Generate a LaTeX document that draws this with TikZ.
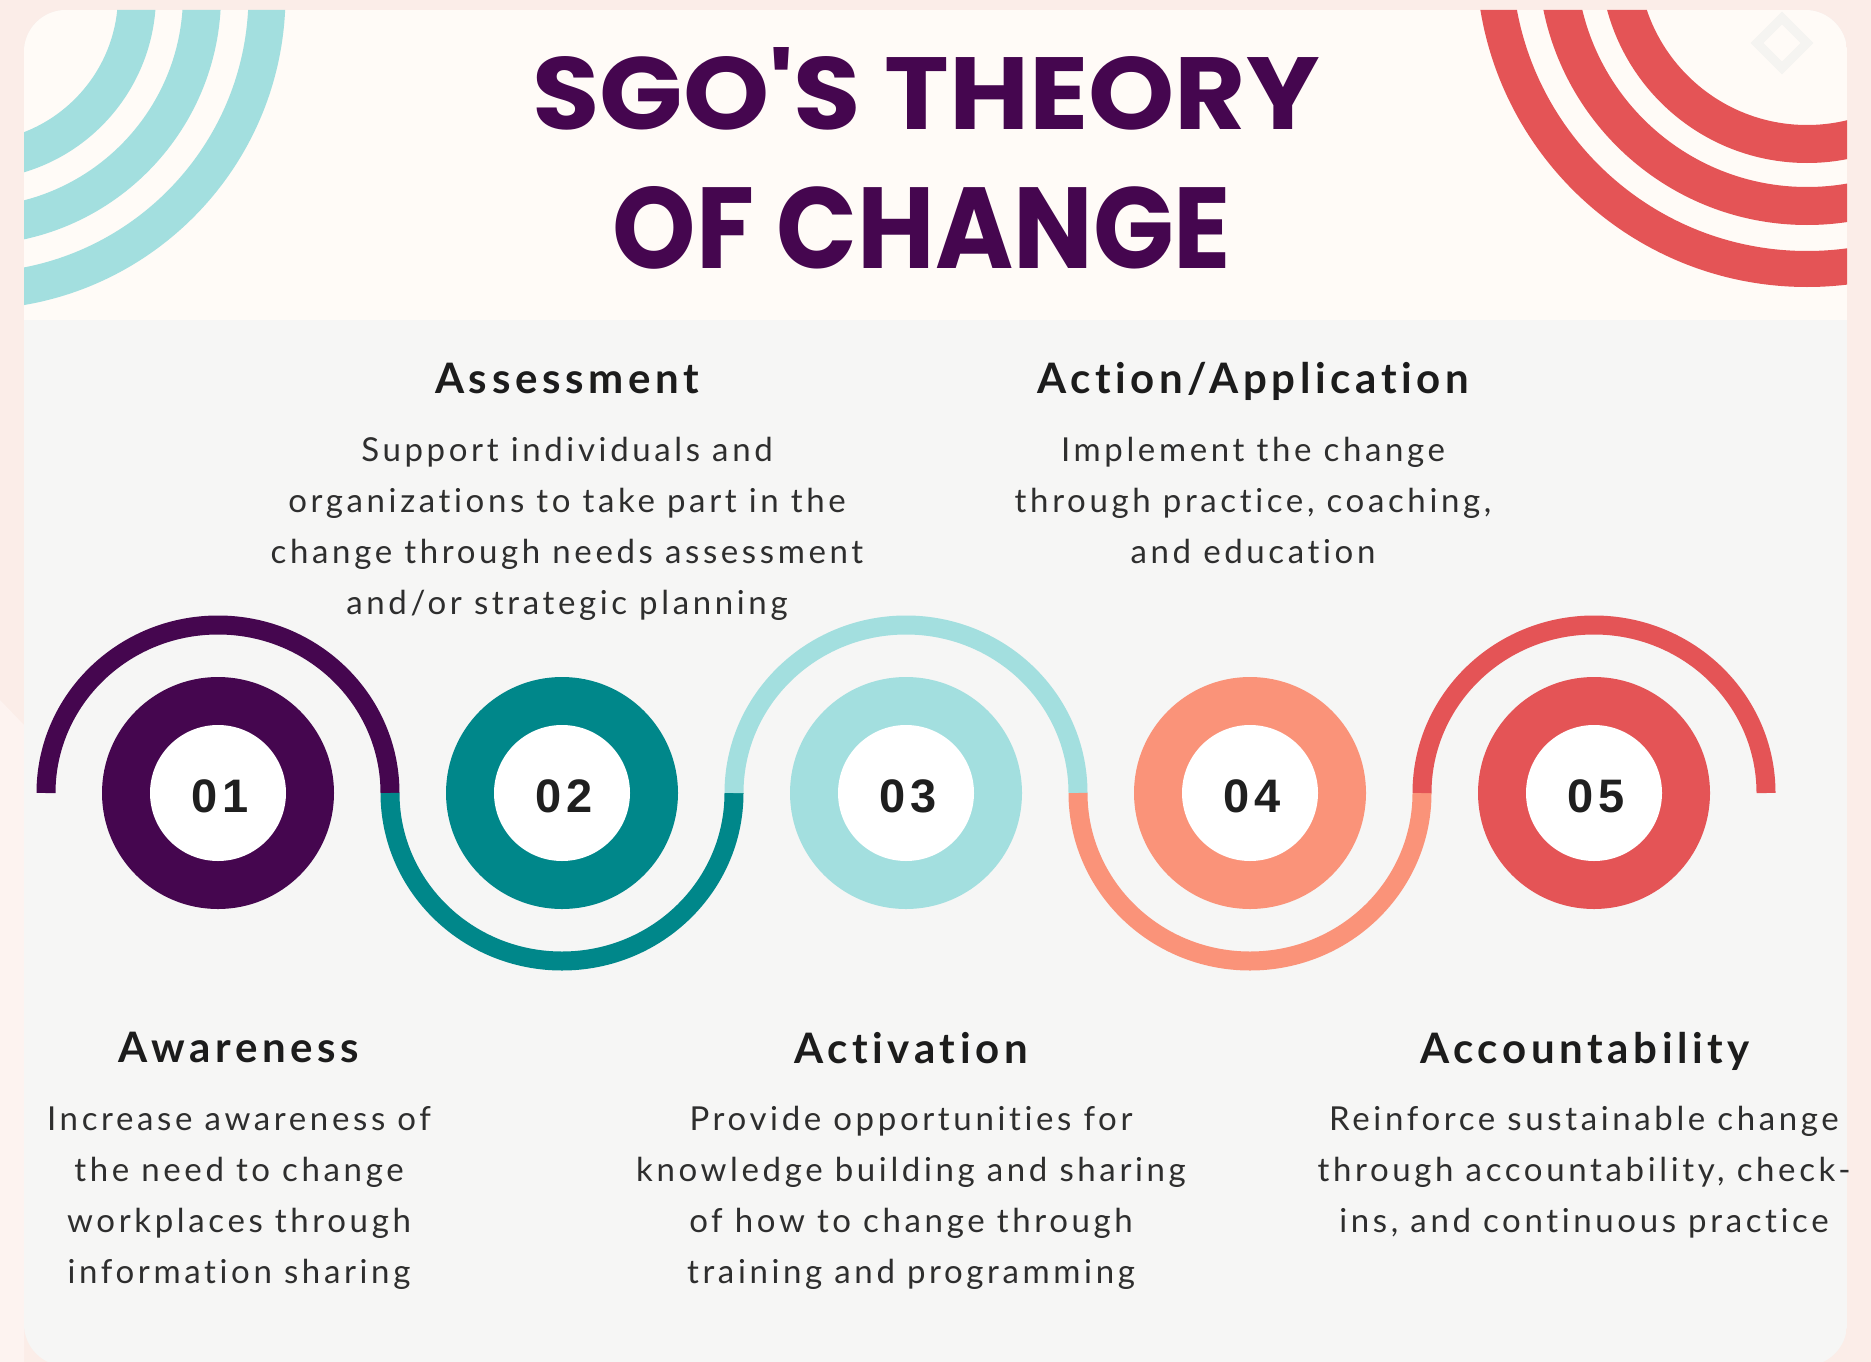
\documentclass[tikz,border=0pt]{standalone}
\usepackage{fontspec}
\usepackage{graphicx}
\newfontfamily\titlefont{Poppins}
\newfontfamily\headfont[LetterSpace=11,Ligatures={NoCommon}]{Lato}
\newfontfamily\bodyfont[LetterSpace=11,Ligatures={NoCommon}]{Lato}
\newfontfamily\numfont[LetterSpace=9]{Liberation Sans}
\definecolor{cpurple}{HTML}{45064F}
\definecolor{cteal}{HTML}{00878A}
\definecolor{clteal}{HTML}{A3DFDF}
\definecolor{csalmon}{HTML}{FA9379}
\definecolor{cred}{HTML}{E45456}
\definecolor{cream}{HTML}{FFFBF7}
\definecolor{bodybg}{HTML}{F6F6F5}
\definecolor{pagebg}{HTML}{FBEDE8}
\definecolor{pagebgl}{HTML}{FDF3F0}
\definecolor{txt}{HTML}{2E2E2E}
\definecolor{headc}{HTML}{1C1C1C}
\definecolor{faint}{HTML}{F5F4F1}
\tikzset{
  titletext/.style={anchor=base, inner sep=0pt, text=cpurple},
  hd/.style={anchor=base, inner sep=0pt, text=headc, font=\headfont\bfseries\fontsize{42}{42}\selectfont},
  bd/.style={anchor=base, inner sep=0pt, text=txt, font=\bodyfont\fontsize{33}{33}\selectfont},
  num/.style={anchor=base, inner sep=0pt, text=black!88, font=\numfont\bfseries\fontsize{47}{47}\selectfont},
  ring/.style={line width=19pt}
}
\begin{document}
\begin{tikzpicture}[x=1pt,y=-1pt]
\useasboundingbox (0,0) rectangle (1871,1362);
\fill[pagebg] (0,0) rectangle (1871,1362);
\fill[pagebgl] (0,700) -- (24,725) -- (24,1362) -- (0,1362) -- cycle;
\begin{scope}
  \clip[rounded corners=42pt] (24,10) rectangle (1847,1366);
  \fill[bodybg] (24,10) rectangle (1847,1366);
  \fill[cream] (24,10) rectangle (1847,320);
  % teal decorative arcs
  \draw[clteal, line width=38pt] (-29,-5) circle (166);
  \draw[clteal, line width=38pt] (-29,-5) circle (231);
  \draw[clteal, line width=37pt] (-29,-5) circle (296);
  % red decorative arcs
  \draw[cred, line width=38pt] (1807,-44) circle (188);
  \draw[cred, line width=38pt] (1807,-44) circle (250);
  \draw[cred, line width=36pt] (1807,-44) circle (313);
  % faint diamond
  \draw[faint, line width=9pt] (1782,18) -- (1807,43) -- (1782,68) -- (1757,43) -- cycle;
\end{scope}

% title
\node[titletext] (t1) at (926,130) {\resizebox{787pt}{82pt}{\titlefont\bfseries SGO\textquotesingle S THEORY}};
\node[titletext] (t2) at (922,268) {\resizebox{618pt}{82pt}{\titlefont\bfseries OF CHANGE}};

% connecting arcs
\draw[cpurple, ring] (46,793) arc[start angle=180, end angle=360, x radius=172, y radius=168];
\draw[cteal, ring] (390,793) arc[start angle=180, end angle=0, x radius=172, y radius=168];
\draw[clteal, ring] (734,793) arc[start angle=180, end angle=360, x radius=172, y radius=168];
\draw[csalmon, ring] (1078,793) arc[start angle=180, end angle=0, x radius=172, y radius=168];
\draw[cred, ring] (1422,793) arc[start angle=180, end angle=360, x radius=172, y radius=168];

% circles
\fill[cpurple] (218,793) circle (116);
\fill[cteal] (562,793) circle (116);
\fill[clteal] (906,793) circle (116);
\fill[csalmon] (1250,793) circle (116);
\fill[cred] (1594,793) circle (116);
\foreach \cx in {218,562,906,1250,1594} \fill[white] (\cx,793) circle (68);

\node[num] (n1) at (220,812) {01};
\node[num] (n2) at (564,812) {02};
\node[num] (n3) at (908,812) {03};
\node[num] (n4) at (1252,812) {04};
\node[num] (n5) at (1596,812) {05};

% Assessment
\node[hd] (h2) at (567,393) {Assessment};
\node[bd] (b21) at (567,461) {Support individuals and};
\node[bd] (b22) at (567,512) {organizations to take part in the};
\node[bd] (b23) at (567,563) {change through needs assessment};
\node[bd] (b24) at (567,614) {and/or strategic planning};

% Action/Application
\node[hd] (h4) at (1253,393) {Action/Application};
\node[bd] (b41) at (1253,461) {Implement the change};
\node[bd] (b42) at (1253,512) {through practice, coaching,};
\node[bd] (b43) at (1253,563) {and education};

% Awareness
\node[hd] (h1) at (239,1062) {Awareness};
\node[bd] (b11) at (239,1130) {Increase awareness of};
\node[bd] (b12) at (239,1181) {the need to change};
\node[bd] (b13) at (239,1232) {workplaces through};
\node[bd] (b14) at (239,1283) {information sharing};

% Activation
\node[hd] (h3) at (911,1063) {Activation};
\node[bd] (b31) at (911,1130) {Provide opportunities for};
\node[bd] (b32) at (911,1181) {knowledge building and sharing};
\node[bd] (b33) at (911,1232) {of how to change through};
\node[bd] (b34) at (911,1283) {training and programming};

% Accountability
\node[hd] (h5) at (1585,1063) {Accountability};
\node[bd] (b51) at (1584,1130) {Reinforce sustainable change};
\node[bd] (b52) at (1584,1181) {through accountability, check-};
\node[bd] (b53) at (1584,1232) {ins, and continuous practice};
\end{tikzpicture}
\end{document}
